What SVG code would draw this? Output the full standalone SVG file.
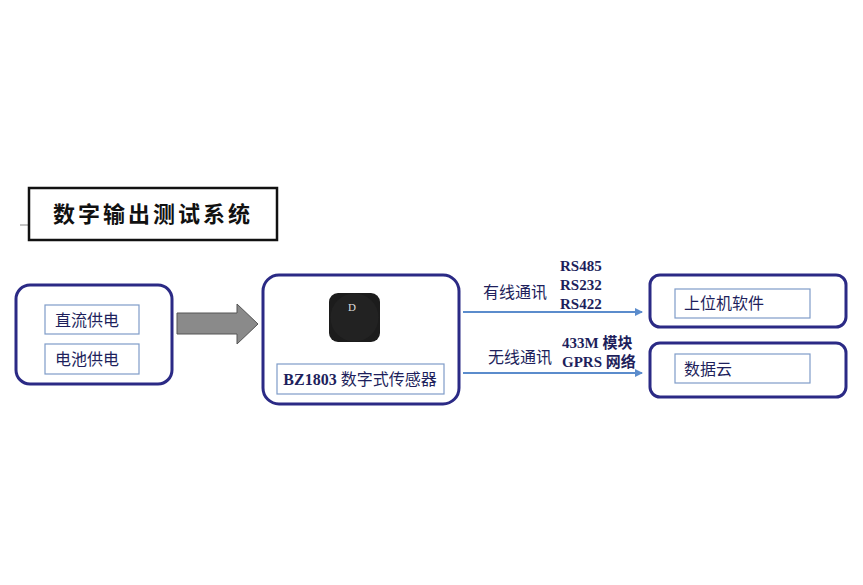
<svg xmlns="http://www.w3.org/2000/svg" width="863" height="585" viewBox="0 0 863 585">
<style>
.ob{fill:#fff;stroke:#2b2a85;stroke-width:3}
.ib{fill:#fff;stroke:#7f9cc8;stroke-width:1.2}
.t{font-family:"Liberation Serif","Noto Sans CJK SC",serif;font-size:16px;fill:#1e1f5c}
.tb{font-family:"Liberation Serif","Noto Sans CJK SC",serif;font-size:15px;font-weight:bold;fill:#1e1f5c}
.cn{stroke:#5b8ccc;stroke-width:2;fill:none}
</style>
<defs><marker id="ah" markerWidth="8" markerHeight="8" refX="7" refY="4" orient="auto" markerUnits="userSpaceOnUse"><path d="M0,0 L8,4 L0,8 Z" fill="#5b8ccc"/></marker></defs>
<rect width="863" height="585" fill="#fff"/>
<g id="title">
<line x1="20" y1="225" x2="29" y2="225" stroke="#888" stroke-width="1"/>
<rect x="29" y="188" width="248" height="52" fill="#fff" stroke="#111" stroke-width="2.5"/>
<text x="153" y="222" text-anchor="middle" font-family="Noto Sans CJK SC,sans-serif" font-size="22" font-weight="bold" fill="#111" letter-spacing="3">数字输出测试系统</text>
</g>
<g id="power">
<rect class="ob" x="16" y="285" width="156" height="99" rx="14"/>
<rect class="ib" x="45" y="305" width="94" height="29"/>
<text class="t" x="55" y="326">直流供电</text>
<rect class="ib" x="45" y="344" width="94" height="30"/>
<text class="t" x="55" y="365">电池供电</text>
</g>
<g id="bigarrow">
<path d="M177,313 H237 V304 L258,324 L237,344 V334 H177 Z" fill="#8a8a8a" stroke="#555" stroke-width="1"/>
</g>
<g id="sensor">
<rect class="ob" x="263" y="275" width="196" height="129" rx="16"/>
<rect x="329" y="293" width="51" height="49" rx="9" fill="#1c1c1c"/>
<circle cx="354.5" cy="317.5" r="24" fill="#222"/>
<text x="352" y="311" text-anchor="middle" font-family="Liberation Serif,serif" font-size="11" fill="#ddd">D</text>
<rect class="ib" x="277" y="364" width="167" height="30"/>
<text class="t" x="360" y="385" text-anchor="middle"><tspan font-weight="bold">BZ1803</tspan> 数字式传感器</text>
</g>
<g id="pc">
<rect class="ob" x="650" y="275" width="196" height="52" rx="10"/>
<rect class="ib" x="675" y="289" width="135" height="29"/>
<text class="t" x="684" y="309">上位机软件</text>
</g>
<g id="cloud">
<rect class="ob" x="650" y="343" width="196" height="54" rx="10"/>
<rect class="ib" x="675" y="354" width="135" height="29"/>
<text class="t" x="684" y="375">数据云</text>
</g>
<g id="connectors">
<line class="cn" x1="463" y1="312" x2="642" y2="312" marker-end="url(#ah)"/>
<line class="cn" x1="463" y1="373" x2="642" y2="373" marker-end="url(#ah)"/>
<text class="t" x="483" y="298" font-size="15">有线通讯</text>
<text class="tb" x="560" y="271">RS485</text>
<text class="tb" x="560" y="290">RS232</text>
<text class="tb" x="560" y="309">RS422</text>
<text class="t" x="488" y="363" font-size="15">无线通讯</text>
<text class="tb" x="562" y="348">433M 模块</text>
<text class="tb" x="562" y="367">GPRS 网络</text>
</g>
</svg>
